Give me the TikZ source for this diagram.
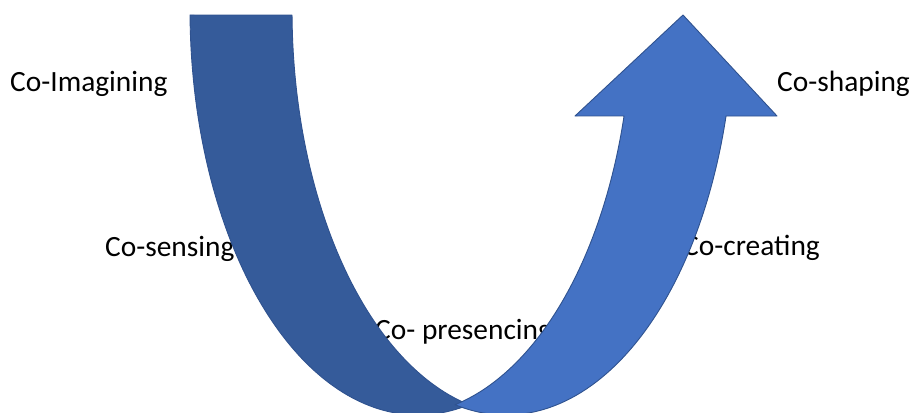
\documentclass[tikz,border=0pt]{standalone}
\usepackage{fontspec}
\setmainfont{Carlito}
\definecolor{bandDark}{RGB}{53,91,154}
\definecolor{bandLight}{RGB}{68,114,196}
\definecolor{bandEdge}{RGB}{47,82,143}
\begin{document}
\begin{tikzpicture}[x=1pt,y=-1pt,
  stage/.style={anchor=base west,inner sep=0pt,font=\fontsize{29.4}{35}\selectfont},
  band/.style={draw=bandEdge,line width=0.9pt,line join=round}]
\useasboundingbox (0,0) rectangle (912,412);

% stage labels (drawn first, the arrows lie over them)
\node[stage] (imagining)  at (10,92)   {Co-Imagining};
\node[stage] (shaping)    at (777,92)  {Co-shaping};
\node[stage] (sensing)    at (105,256) {Co-sensing};
\node[stage] (creating)   at (683,255) {Co-creating};
\node[stage] (presencing) at (375,339) {Co- presencing};

% descending band: two equal ellipses (a=228, b=405) shifted by 102
\draw[band,fill=bandDark] (190,15)
  -- plot[domain=179.29:77.07,samples=90,variable=\t]
       ({418+228*cos(\t)},{10+405*sin(\t)})
  -- plot[domain=102.93:179.29,samples=90,variable=\t]
       ({520+228*cos(\t)},{10+405*sin(\t)})
  -- cycle;

% ascending arrow with its head
\coordinate (headL) at (575,116);
\coordinate (tip)   at (683,15);
\coordinate (headR) at (777,116);
\draw[band,fill=bandLight] (headL) -- (tip) -- (headR) -- (726,116)
  -- plot[domain=15.17:102.93,samples=90,variable=\t]
       ({506+228*cos(\t)},{10+405*sin(\t)})
  -- plot[domain=77.07:15.17,samples=90,variable=\t]
       ({404+228*cos(\t)},{10+405*sin(\t)})
  -- cycle;
\end{tikzpicture}
\end{document}
